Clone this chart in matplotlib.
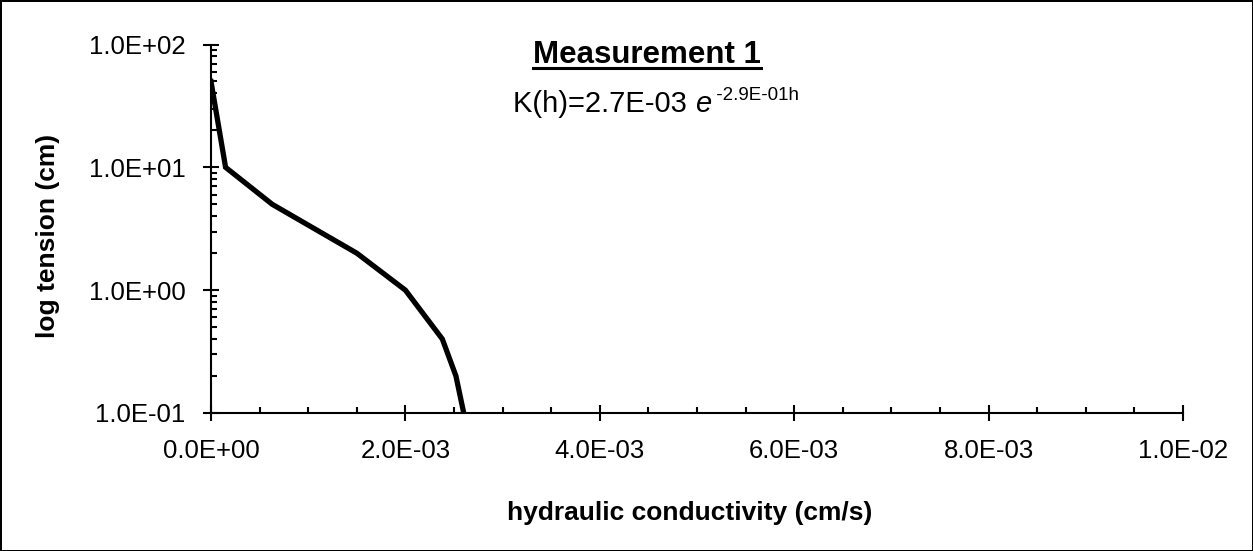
import matplotlib.pyplot as plt
from matplotlib.ticker import FixedLocator, FuncFormatter, LogLocator, MultipleLocator
from matplotlib.lines import Line2D

plt.rcParams['font.family'] = ['Liberation Sans', 'DejaVu Sans']

# data
tension = [50, 10, 5, 2, 1, 0.4, 0.2, 0.1]                 # cm
conductivity = [0.0, 1.5e-4, 6.3e-4, 1.5e-3, 2.0e-3, 2.38e-3, 2.52e-3, 2.6e-3]  # cm/s
x_ticks = [0.0, 0.002, 0.004, 0.006, 0.008, 0.010]
y_ticks = [0.1, 1, 10, 100]

W, H = 1253, 551
fig = plt.figure(figsize=(W / 100, H / 100), dpi=100)
fig.patch.set_edgecolor('black')
fig.patch.set_linewidth(2)

ax = fig.add_axes([211 / W, 1 - 413 / H, (1183 - 211) / W, (413 - 44.5) / H])
ax.plot(conductivity, tension, color='black', linewidth=3.8, solid_joinstyle='miter')

ax.set_yscale('log')
ax.set_xlim(0, 0.01)
ax.set_ylim(0.1, 100)
ax.xaxis.set_major_locator(FixedLocator(x_ticks))
ax.xaxis.set_minor_locator(MultipleLocator(0.0005))
ax.yaxis.set_major_locator(FixedLocator(y_ticks))
ax.yaxis.set_minor_locator(LogLocator(base=10, subs=range(2, 10)))
sci = FuncFormatter(lambda v, p: f'{v:.1E}')
ax.xaxis.set_major_formatter(sci)
ax.yaxis.set_major_formatter(sci)
ax.yaxis.set_minor_formatter(FuncFormatter(lambda v, p: ''))

for s in ['top', 'right']:
    ax.spines[s].set_visible(False)
for s in ['left', 'bottom']:
    ax.spines[s].set_linewidth(1.5)

ax.tick_params(which='major', direction='inout', length=11, width=1.5, labelsize=18.5)
ax.tick_params(which='minor', direction='in', length=4.5, width=1.5)
ax.tick_params(axis='y', which='major', pad=13)
ax.tick_params(axis='x', which='major', pad=13)

fig.text(48 / W, 1 - 236 / H, 'log tension (cm)', fontsize=19, fontweight='bold',
         rotation=90, ha='center', va='center')
fig.text(690 / W, 1 - 520 / H, 'hydraulic conductivity (cm/s)', fontsize=19,
         fontweight='bold', ha='center', va='baseline')

title = fig.text(647 / W, 1 - 63 / H, 'Measurement 1', fontsize=22.5, fontweight='bold',
                 ha='center', va='baseline')

t1 = fig.text(513 / W, 1 - 112 / H, 'K(h)=2.7E-03 ', fontsize=21, ha='left', va='baseline')
t2 = ax.annotate('e', xy=(1, 0), xycoords=t1, fontsize=21, style='italic',
                 ha='left', va='bottom')
ax.annotate(' -2.9E-01h', xy=(1, 0.5), xycoords=t2, fontsize=13.5, ha='left', va='bottom')

# underline the title
fig.canvas.draw()
bb = title.get_window_extent().transformed(fig.transFigure.inverted())
uy = 1 - 67.5 / H
fig.add_artist(Line2D([bb.x0, bb.x1], [uy, uy], color='black',
                      linewidth=2.2, transform=fig.transFigure))

fig.savefig('out.png', dpi=100, edgecolor=fig.get_edgecolor())
